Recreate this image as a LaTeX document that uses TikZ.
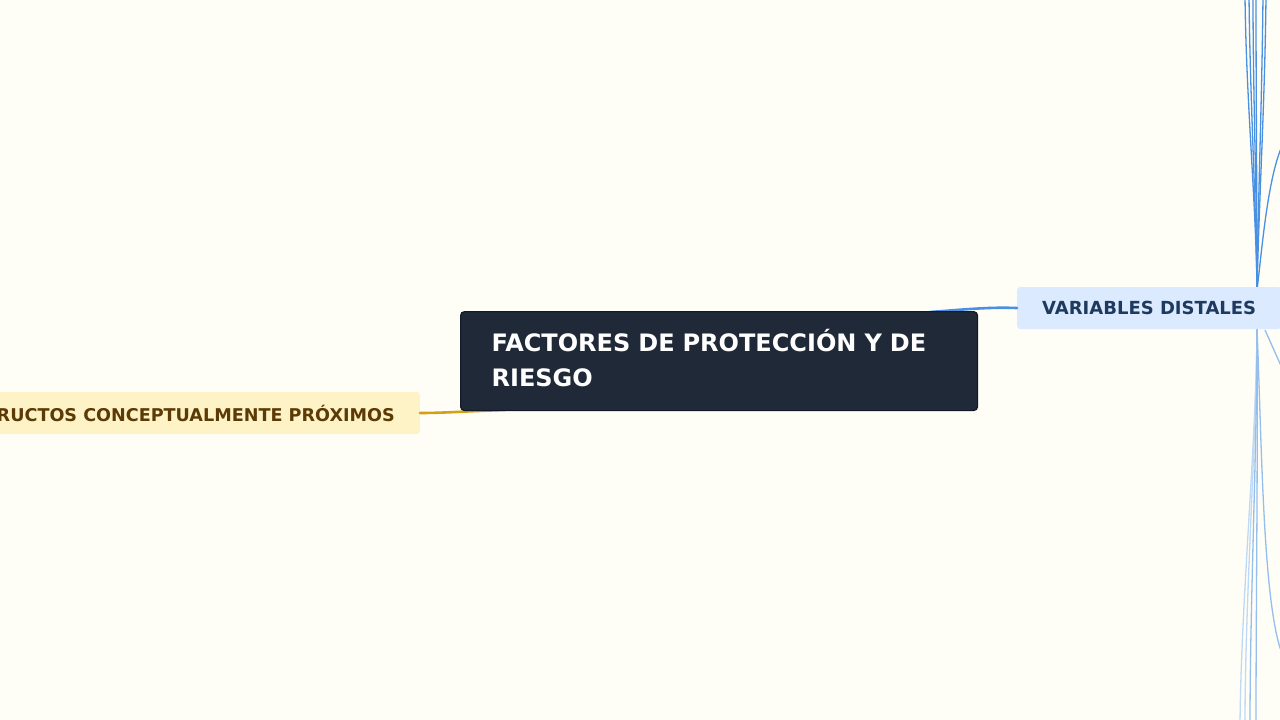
\documentclass[tikz,border=0pt]{standalone}
\usepackage{fontspec}
\setmainfont{DejaVu Sans}
\definecolor{bg}{HTML}{FFFEF6}
\definecolor{cdark}{HTML}{1F2937}
\definecolor{cdarkb}{HTML}{111827}
\definecolor{bluefill}{HTML}{DBEAFE}
\definecolor{bluetext}{HTML}{1E3A5F}
\definecolor{blueline}{HTML}{4A90E2}
\definecolor{bluelight}{HTML}{93BEEE}
\definecolor{bluepale}{HTML}{BFD8F5}
\definecolor{goldfill}{HTML}{FEF3C7}
\definecolor{goldtext}{HTML}{5C3A06}
\definecolor{goldline}{HTML}{D4A017}
\tikzset{
  centerbox/.style={draw=cdarkb, line width=1.2pt, fill=cdark, rounded corners=4pt, text=white, font=\bfseries\fontsize{24}{35}\selectfont, align=left, anchor=north west, minimum width=517pt, minimum height=99pt, inner xsep=31pt, text width=455pt, text depth=41pt},
  subbox/.style={fill=bluefill, rounded corners=3pt, text=bluetext, font=\bfseries\fontsize{18}{20}\selectfont, minimum height=42pt, anchor=west, inner xsep=25pt},
  leftbox/.style={fill=goldfill, rounded corners=3pt, text=goldtext, font=\bfseries\fontsize{17.6}{20}\selectfont, minimum height=42pt, anchor=east, inner xsep=25pt},
  conn/.style={line width=2.6pt, line cap=round},
  twig/.style={line width=1.3pt, blueline},
  twiglight/.style={line width=1.3pt, bluelight},
  twigpale/.style={line width=1.3pt, bluepale},
}
\begin{document}
\begin{tikzpicture}[x=1pt,y=-1pt]
\fill[bg] (0,0) rectangle (1280,720);
\useasboundingbox (0,0) rectangle (1280,720);
\begin{scope}
\clip (0,0) rectangle (1280,720);
% twigs
\coordinate (hubU) at (1257,290);
\coordinate (hubD) at (1257,328);
\coordinate (t1) at (1245,-5);
\coordinate (t2) at (1249,-5);
\coordinate (t3) at (1253,-5);
\coordinate (t4) at (1256,-5);
\coordinate (t5) at (1263,-5);
\coordinate (t6) at (1266,-5);
\coordinate (t7) at (1285,140);
\coordinate (b1) at (1240,725);
\coordinate (b2) at (1245,725);
\coordinate (b3) at (1250,725);
\coordinate (b4) at (1256,725);
\coordinate (b5) at (1285,660);
\coordinate (b6) at (1282,368);
\draw[twig] (hubU) .. controls (1256,200) and (1246,100) .. (t1);
\draw[twig] (hubU) .. controls (1256,200) and (1250,100) .. (t2);
\draw[twig] (hubU) .. controls (1257,200) and (1253,100) .. (t3);
\draw[twig] (hubU) .. controls (1257,200) and (1256,100) .. (t4);
\draw[twig] (hubU) .. controls (1258,200) and (1262,100) .. (t5);
\draw[twig] (hubU) .. controls (1259,200) and (1265,100) .. (t6);
\draw[twig] (hubU) .. controls (1262,250) and (1268,170) .. (t7);
\draw[twigpale] (hubD) .. controls (1256,450) and (1241,600) .. (b1);
\draw[twigpale] (hubD) .. controls (1256,450) and (1245,600) .. (b2);
\draw[twiglight] (hubD) .. controls (1257,450) and (1250,600) .. (b3);
\draw[twiglight] (hubD) .. controls (1258,450) and (1256,600) .. (b4);
\draw[twiglight] (hubD) .. controls (1262,450) and (1263,620) .. (b5);
\draw[twiglight] (1265,330) -- (b6);
% connectors
\coordinate (cR) at (930,312);
\coordinate (cL) at (505,410);
\node[subbox] (right) at (1017,308) {VARIABLES DISTALES};
\node[leftbox] (left) at (420,413) {CONSTRUCTOS CONCEPTUALMENTE PRÓXIMOS};
\draw[conn, blueline] (cR) .. controls (970,309) and (990,307) .. (right.west);
\draw[conn, goldline] (cL) .. controls (470,411) and (445,413) .. (left.east);
\node[centerbox] (center) at (460,311) {FACTORES DE PROTECCIÓN Y DE RIESGO};
\end{scope}
\end{tikzpicture}
\end{document}
